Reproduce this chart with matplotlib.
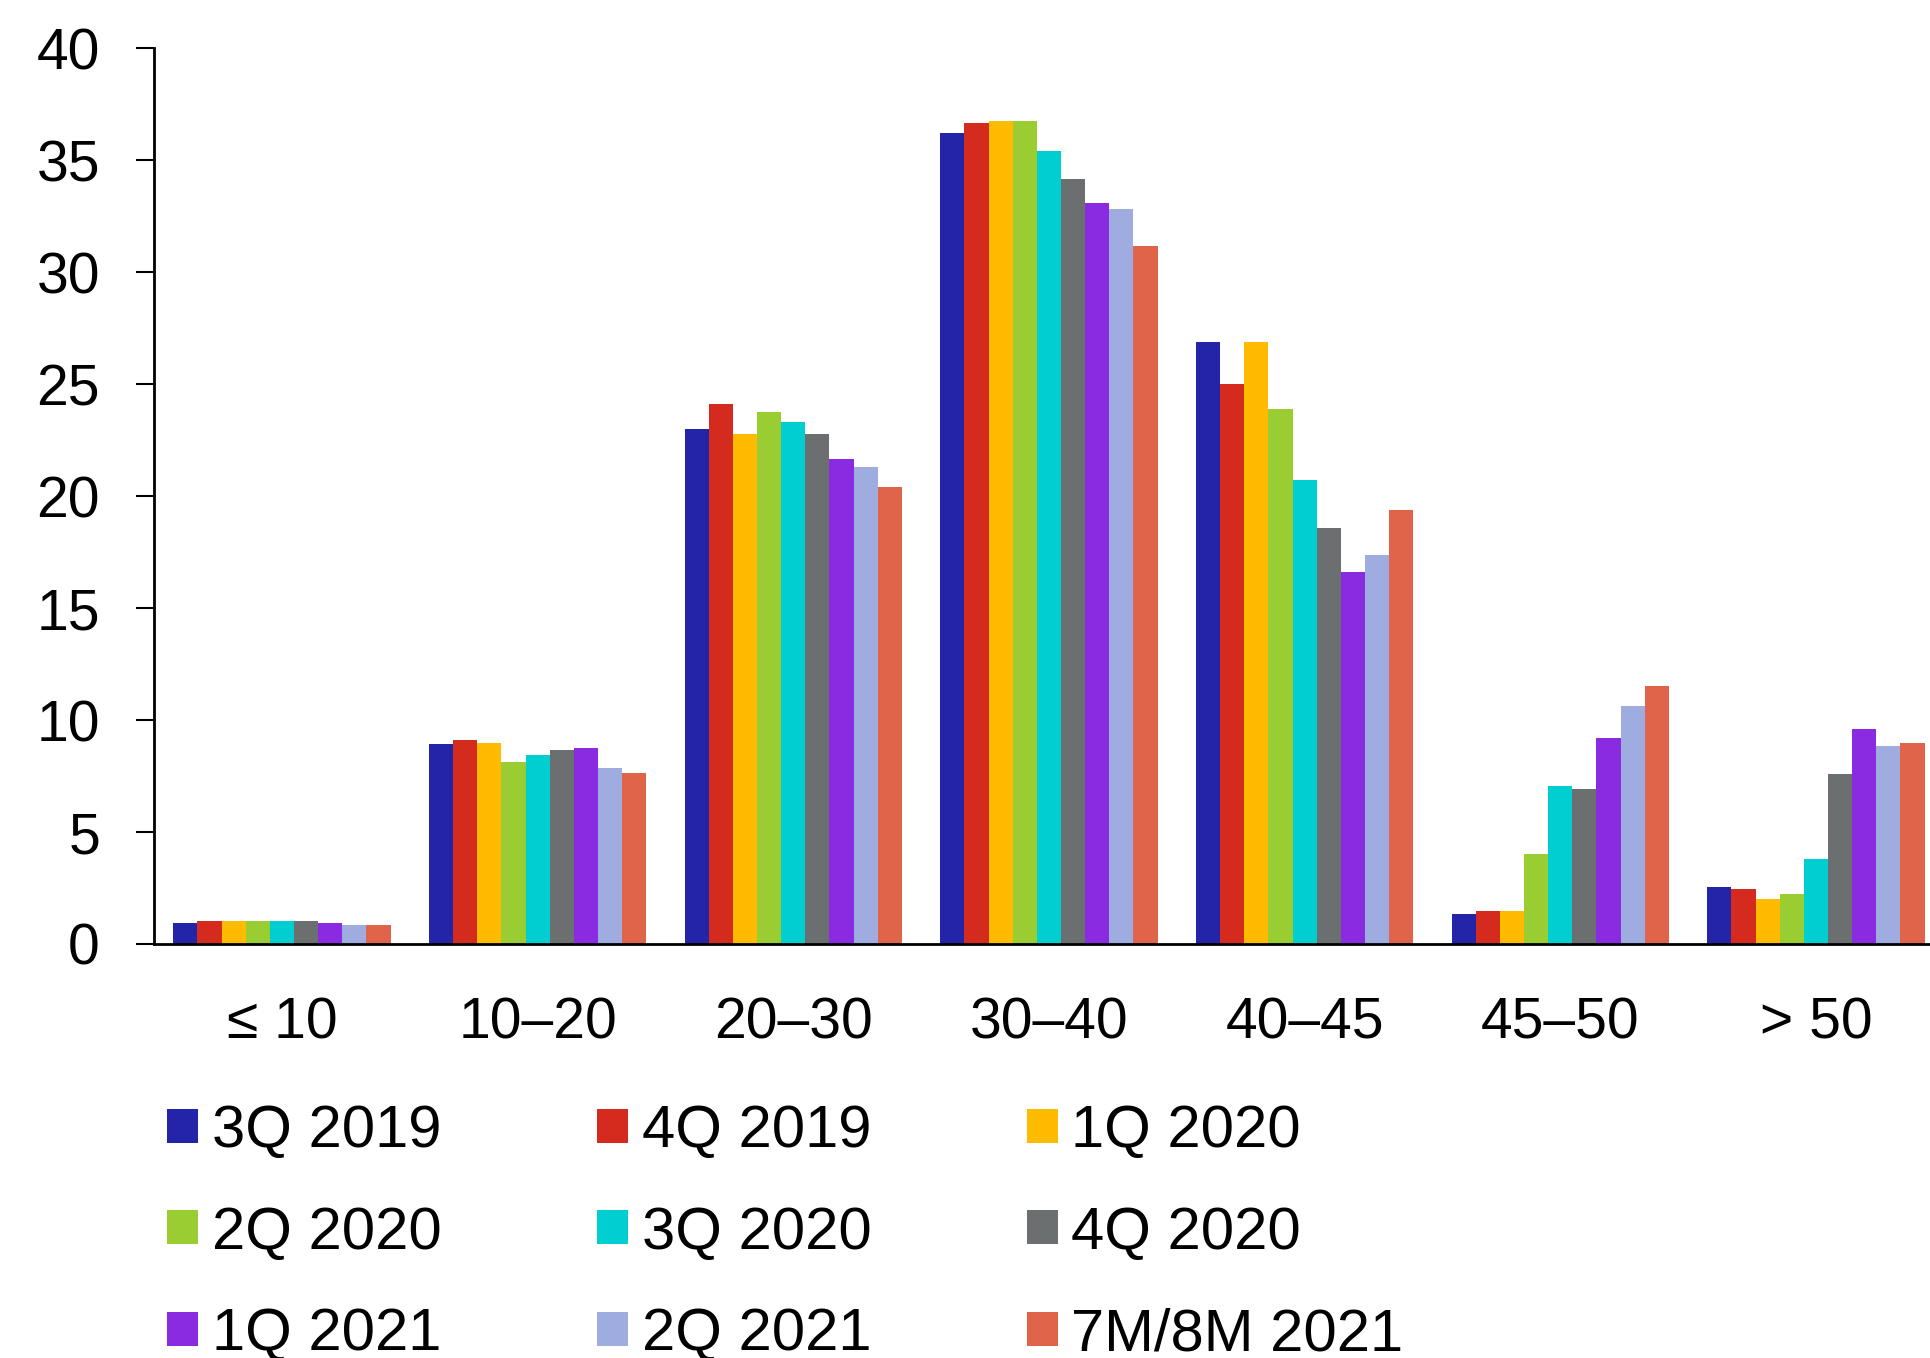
import numpy as np
import matplotlib.pyplot as plt
from matplotlib.patches import Patch

plt.rcParams['font.family'] = ['Liberation Sans', 'DejaVu Sans']

# age bands
bands = ["≤ 10", "10–20", "20–30", "30–40", "40–45", "45–50", "> 50"]

# share per band, one list per period
q3_2019 = [0.94, 8.92, 22.99, 36.21, 26.89, 1.33, 2.56]
q4_2019 = [1.03, 9.12, 24.13, 36.67, 25.01, 1.45, 2.46]
q1_2020 = [1.03, 8.97, 22.76, 36.78, 26.89, 1.45, 2.02]
q2_2020 = [1.03, 8.12, 23.76, 36.78, 23.90, 4.02, 2.22]
q3_2020 = [1.03, 8.43, 23.33, 35.41, 20.74, 7.04, 3.81]
q4_2020 = [1.03, 8.66, 22.76, 34.19, 18.60, 6.94, 7.61]
q1_2021 = [0.94, 8.77, 21.65, 33.08, 16.61, 9.18, 9.62]
q2_2021 = [0.83, 7.86, 21.31, 32.85, 17.38, 10.63, 8.84]
m78_2021 = [0.83, 7.64, 20.40, 31.17, 19.40, 11.54, 8.96]

periods = ["3Q 2019", "4Q 2019", "1Q 2020", "2Q 2020", "3Q 2020",
           "4Q 2020", "1Q 2021", "2Q 2021", "7M/8M 2021"]
series = [q3_2019, q4_2019, q1_2020, q2_2020, q3_2020,
          q4_2020, q1_2021, q2_2021, m78_2021]
colors = ["#2424A8", "#D52B1E", "#FFBB00", "#9ACD32", "#00CED1",
          "#6C6F70", "#8A2BE2", "#9FACE0", "#E0644A"]

fig = plt.figure(figsize=(19.31, 13.58), dpi=100)
ax = fig.add_axes([0.0798, 0.3049, 0.9202, 0.6594])

x = np.arange(len(bands))
w = 0.0944
for i, (vals, c) in enumerate(zip(series, colors)):
    ax.bar(x + (i - 4) * w, vals, width=w, color=c, linewidth=0)

ax.set_xlim(-0.5, 6.45)
ax.set_ylim(0, 40)
ax.set_yticks(range(0, 41, 5))
ax.set_xticks(x)
ax.set_xticklabels(bands)

for s in ("top", "right"):
    ax.spines[s].set_visible(False)
ax.spines["left"].set_linewidth(2)
ax.spines["bottom"].set_linewidth(2)
ax.tick_params(axis="y", direction="out", length=13, width=1.5,
               labelsize=41, pad=26)
ax.tick_params(axis="x", length=0, labelsize=41, pad=38)

# legend laid out row by row, three per row
handles = [Patch(facecolor=c, edgecolor="none") for c in colors]
order = [0, 3, 6, 1, 4, 7, 2, 5, 8]
fig.legend([handles[k] for k in order], [periods[k] for k in order],
           ncol=3, loc="upper left", bbox_to_anchor=(167 / 1931, 1 - 1104 / 1358),
           frameon=False, fontsize=43, borderpad=0, borderaxespad=0,
           handlelength=0.52, handleheight=0.5, handletextpad=0.23,
           columnspacing=2.6, labelspacing=0.78)

fig.savefig("out.png", dpi=100)
